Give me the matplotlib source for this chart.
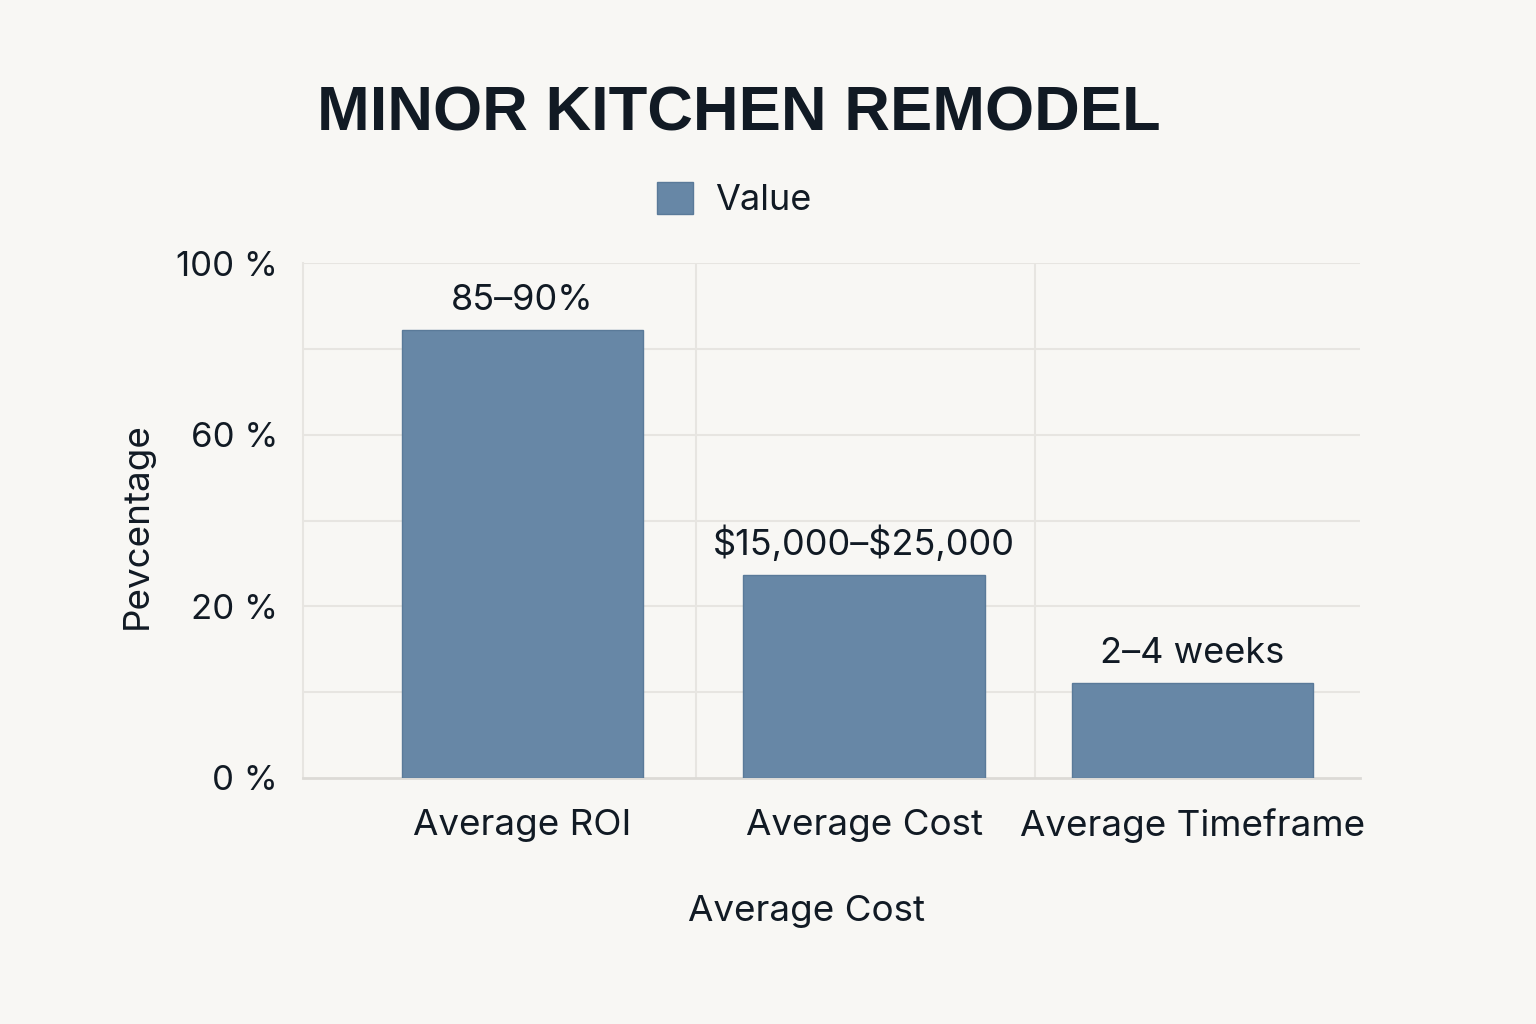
import matplotlib
matplotlib.use("Agg")
import matplotlib.pyplot as plt
from matplotlib.patches import Patch

categories = ["Average ROI", "Average Cost", "Average Timeframe"]
values = [87, 39.5, 18.5]
bar_labels = ["85–90%", "\\$15,000–\\$25,000", "2–4 weeks"]
ytick_values = [0, 100 / 3, 200 / 3, 100]
ytick_labels = ["0 %", "20 %", "60 %", "100 %"]
grid_values = [100 * k / 6 for k in range(1, 7)]

bg = "#f8f7f4"
bar_color = "#6787a6"
text_color = "#111a24"
grid_color = "#e7e5e1"

plt.rcParams["font.family"] = ["Inter", "DejaVu Sans"]

fig = plt.figure(figsize=(15.36, 10.24), dpi=100, facecolor=bg)
ax = fig.add_axes([303 / 1536, 1 - 778 / 1024, 1057 / 1536, 515 / 1024])
ax.set_facecolor(bg)

# slot positions of the three bars (middle one sits a touch right in the original)
x = [0, 1.02, 2]
bars = ax.bar(x, values, width=0.72, color=bar_color, edgecolor="#5a7a99",
              linewidth=1, zorder=3, label="Value")

for b, lab in zip(bars, bar_labels):
    ax.annotate(lab, (b.get_x() + b.get_width() / 2, b.get_height()),
                xytext=(0, 9), textcoords="offset points",
                ha="center", va="bottom", fontsize=26, color=text_color)

ax.set_xlim(-0.654, 2.5)
ax.set_ylim(0, 100)

for gv in grid_values:
    ax.axhline(gv, color=grid_color, linewidth=1.5, zorder=1)
for gx in [0.52, 1.53]:
    ax.axvline(gx, color=grid_color, linewidth=1.5, zorder=1)

ax.set_xticks(x)
ax.set_xticklabels(categories, fontsize=26.5, color=text_color)
ax.set_yticks(ytick_values)
ax.set_yticklabels(ytick_labels, fontsize=25, color=text_color)
ax.tick_params(axis="both", length=0)
ax.tick_params(axis="x", pad=22)
ax.tick_params(axis="y", pad=18)

for side in ["top", "right"]:
    ax.spines[side].set_visible(False)
ax.spines["left"].set_color(grid_color)
ax.spines["left"].set_linewidth(1.5)
ax.spines["bottom"].set_color("#dcdad6")
ax.spines["bottom"].set_linewidth(2)

ax.set_xlabel("Average Cost", fontsize=26.5, color=text_color)
ax.xaxis.set_label_coords(0.476, -0.228)
ax.set_ylabel("Pevcentage", fontsize=26.5, color=text_color)
ax.yaxis.set_label_coords(-0.141, 0.49)

fig.text(0.481, 0.889, "MINOR KITCHEN REMODEL", ha="center", va="center",
         fontsize=45.5, fontweight="bold", color=text_color,
         family=["Liberation Sans", "DejaVu Sans"])

fig.legend(handles=[Patch(facecolor=bar_color, edgecolor="#5a7a99", label="Value")],
           loc="center", bbox_to_anchor=(0.478, 0.805), frameon=False,
           fontsize=26, handlelength=1.0, handleheight=1.0, handletextpad=0.6,
           labelcolor=text_color)

fig.savefig("out.png", dpi=100, facecolor=bg)
